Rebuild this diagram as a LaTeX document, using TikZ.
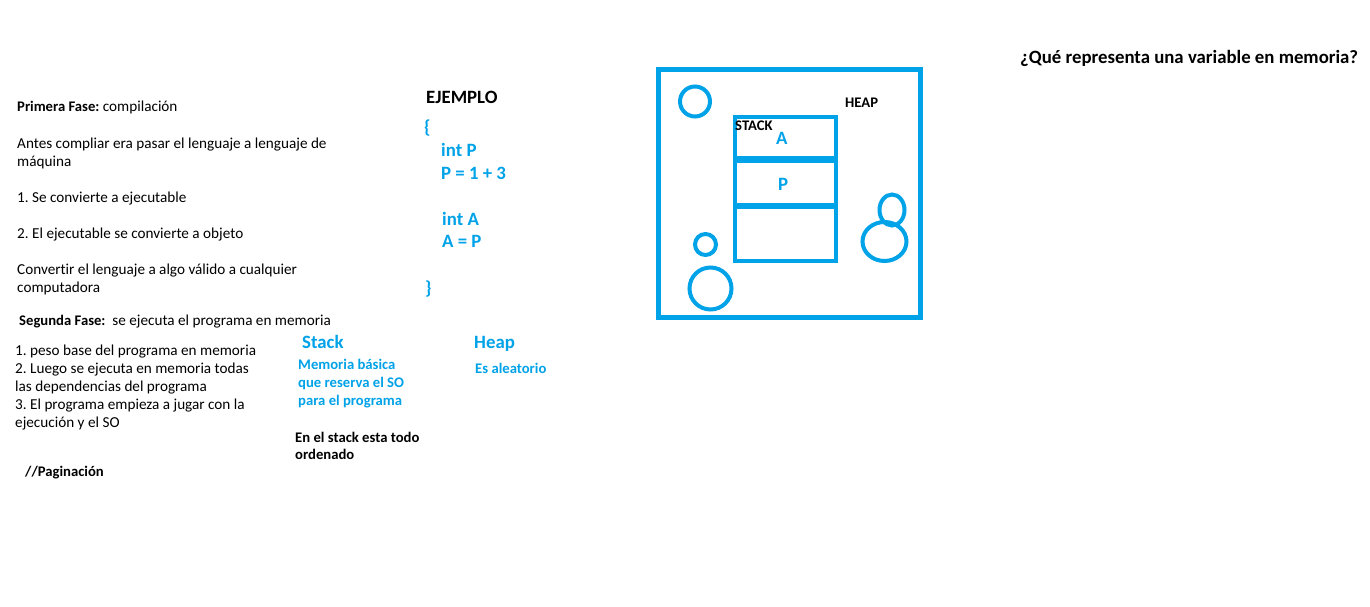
\documentclass[tikz,border=0pt]{standalone}
\usepackage{fontspec}
\setmainfont{Carlito}[Ligatures=NoCommon]
\definecolor{pblue}{HTML}{00A2E8}
\frenchspacing
\begin{document}
\begin{tikzpicture}[x=1pt,y=-1pt,
  txt/.style={anchor=base west,inner sep=0pt,font=\fontsize{15.2}{18}\selectfont},
  btxt/.style={anchor=base west,inner sep=0pt,font=\fontsize{14.67}{18}\selectfont\bfseries},
  big/.style={anchor=base west,inner sep=0pt,font=\fontsize{18.8}{22}\selectfont\bfseries},
  bl/.style={text=pblue},
  shp/.style={draw=pblue,line width=4pt}]
\useasboundingbox[fill=white] (0,0) rectangle (1370,607);
% title
\node[big] (title) at (1020,64) {¿Qué representa una variable en memoria?};
% left column
\node[txt] (l1) at (17,112) {{\fontsize{14.67}{18}\selectfont\bfseries Primera Fase:} compilación};
\node[txt] (l2) at (17,148) {Antes compliar era pasar el lenguaje a lenguaje de};
\node[txt] (l3) at (17,166) {máquina};
\node[txt] (l4) at (17,202) {1. Se convierte a ejecutable};
\node[txt] (l5) at (17,238) {2. El ejecutable se convierte a objeto};
\node[txt] (l6) at (17,274) {Convertir el lenguaje a algo válido a cualquier};
\node[txt] (l7) at (17,292) {computadora};
\node[txt] (l8) at (19,325) {{\fontsize{14.67}{18}\selectfont\bfseries Segunda Fase:}\ \ se ejecuta el programa en memoria};
\node[txt] (l9) at (15,355) {1. peso base del programa en memoria};
\node[txt] (l10) at (15,373) {2. Luego se ejecuta en memoria todas};
\node[txt] (l11) at (15,391) {las dependencias del programa};
\node[txt] (l12) at (15,409) {3. El programa empieza a jugar con la};
\node[txt] (l13) at (15,427) {ejecución y el SO};
\node[btxt] (l14) at (25,476) {//Paginación};
% example
\node[big] (ej) at (426,104) {EJEMPLO};
\node[big,bl] (c1) at (424,134) {\{};
\node[big,bl] (c2) at (441,156) {int P};
\node[big,bl] (c3) at (441,179) {P = 1 + 3};
\node[big,bl] (c4) at (442,225) {int A};
\node[big,bl] (c5) at (442,247) {A = P};
\node[big,bl] (c6) at (425,294) {\}};
% stack / heap notes
\node[big,bl] (st) at (302,348) {Stack};
\node[btxt,bl] (s1) at (298,369) {Memoria básica};
\node[btxt,bl] (s2) at (298,387) {que reserva el SO};
\node[btxt,bl] (s3) at (298,405) {para el programa};
\node[btxt] (s4) at (295,442) {En el stack esta todo};
\node[btxt] (s5) at (295,459) {ordenado};
\node[big,bl] (hp) at (474,348) {Heap};
\node[btxt,bl] (h1) at (475,373) {Es aleatorio};
% memory drawing
\draw[shp,line width=5pt] (658,70) rectangle (920.5,317);
\draw[shp] (734.5,117) rectangle (835.5,261);
\draw[pblue,line width=6.5pt] (734.5,159.5) -- (835.5,159.5);
\draw[pblue,line width=6.5pt] (734.5,206) -- (835.5,206);
\node[btxt] (stk) at (735,131) {STACK};
\node[btxt] (heap) at (845,108) {HEAP};
\node[big,bl] (va) at (776,144) {A};
\node[big,bl] (vp) at (778,190) {P};
\draw[shp] (695,101.5) circle[radius=15pt];
\draw[shp] (705.5,244.5) circle[radius=10.5pt];
\draw[shp] (710.5,288.5) circle[radius=21pt];
\draw[shp] (892,210) ellipse[x radius=12.5pt,y radius=15.5pt];
\draw[shp] (884.5,241.5) ellipse[x radius=22pt,y radius=19.5pt];
\end{tikzpicture}
\end{document}
